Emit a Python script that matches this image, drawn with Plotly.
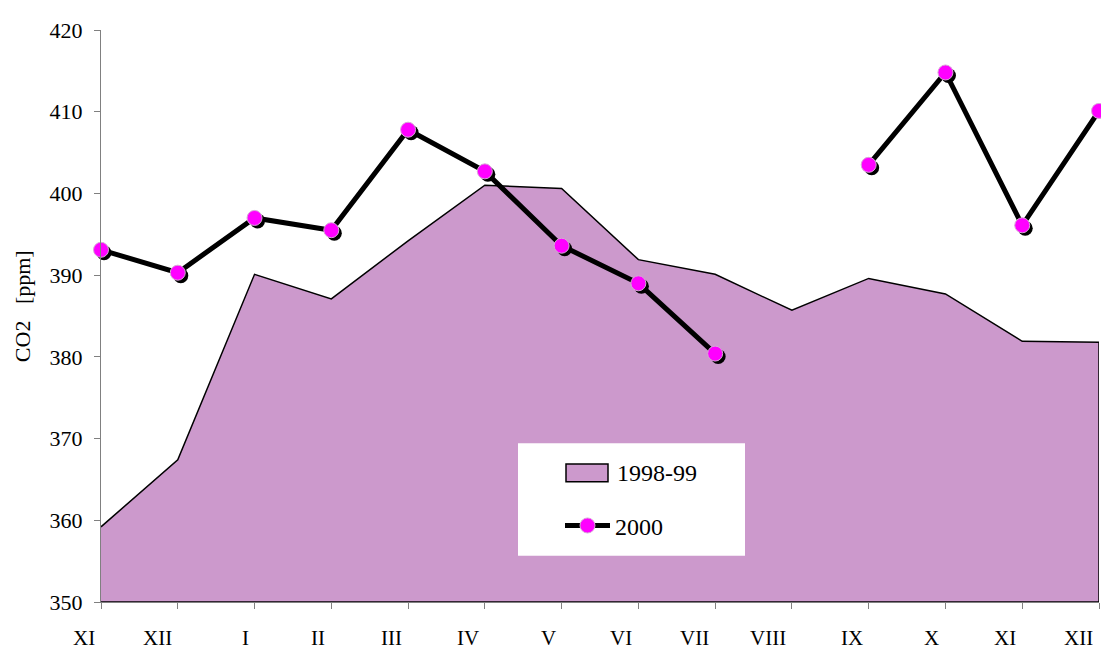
import plotly.graph_objects as go

months = ["XI", "XII", "I", "II", "III", "IV", "V", "VI", "VII", "VIII", "IX", "X", "XI", "XII"]
co2_1998_99 = [359.2, 367.4, 390.1, 387.1, 394.2, 401.0, 400.6, 391.9, 390.1, 385.7, 389.6, 387.7, 381.9, 381.8]
co2_2000 = [393.1, 390.3, 397.0, 395.5, 407.8, 402.7, 393.6, 389.0, 380.4, None, 403.5, 414.8, 396.1, 410.1]

Y_MIN, Y_MAX = 350, 420
xs = list(range(len(months)))

OFF = 8  # page body margin
W, H = 1109 - OFF, 651 - OFF
ML, MR, MT, MB = 101 - OFF, 10, 22 - OFF, 49
PW = W - ML - MR
PH = H - MT - MB
SHADOW_PX = 3
x_range = [0, len(months) - 1]
dx = SHADOW_PX * (x_range[1] - x_range[0]) / PW
dy = SHADOW_PX * (Y_MAX - Y_MIN) / PH


def px_x(sx):  # screen x -> paper
    return (sx - OFF - ML) / PW


def px_y(sy):  # screen y -> paper
    return (MT + PH - (sy - OFF)) / PH


FONT = "Liberation Serif, Times New Roman, serif"
AREA = "#CC99CC"

fig = go.Figure()

# area (closed polygon down to axis minimum)
fig.add_trace(go.Scatter(
    x=xs + [xs[-1], xs[0]],
    y=co2_1998_99 + [Y_MIN, Y_MIN],
    fill="toself", fillcolor=AREA,
    mode="lines", line=dict(color="black", width=1.5),
    name="1998-99", showlegend=False, hoverinfo="skip", cliponaxis=False,
))

# shadow of markers (drawn on shifted overlay axes)
fig.add_trace(go.Scatter(
    x=xs, y=co2_2000, mode="markers",
    marker=dict(size=15, color="black"),
    xaxis="x2", yaxis="y2", showlegend=False, hoverinfo="skip", cliponaxis=False,
))

fig.add_trace(go.Scatter(
    x=xs, y=co2_2000, mode="lines+markers", connectgaps=False,
    line=dict(color="black", width=5),
    marker=dict(size=15, color="#FF00FF", line=dict(color="#D8A8D8", width=1)),
    name="2000", xaxis="x3", yaxis="y3", cliponaxis=False,
))

# x tick labels (right-aligned just left of each tick)
for i, m in enumerate(months):
    fig.add_annotation(x=i, y=0, xref="x", yref="paper", text=m, showarrow=False,
                       xanchor="right", yanchor="middle", xshift=-4, yshift=-36,
                       font=dict(family=FONT, size=21, color="black"))

fig.add_annotation(x=px_x(22), y=px_y(302), xref="paper", yref="paper", text="CO2   [ppm]",
                   textangle=-90, showarrow=False, xanchor="center", yanchor="middle",
                   font=dict(family=FONT, size=22, color="black"))

# white legend box
fig.add_shape(type="rect", xref="paper", yref="paper",
              x0=px_x(518), x1=px_x(745), y0=px_y(555), y1=px_y(441),
              fillcolor="white", line=dict(width=0), layer="above")
# legend entry for the area series
fig.add_shape(type="rect", xref="paper", yref="paper",
              x0=px_x(566), x1=px_x(608), y0=px_y(480), y1=px_y(462),
              fillcolor=AREA, line=dict(color="black", width=1.5), layer="above")
fig.add_annotation(x=px_x(615), y=px_y(471), xref="paper", yref="paper", text="1998-99",
                   showarrow=False, xanchor="left", yanchor="middle",
                   font=dict(family=FONT, size=24, color="black"))

fig.update_layout(
    width=W, height=H,
    margin=dict(l=ML, r=MR, t=MT, b=MB),
    paper_bgcolor="white", plot_bgcolor="white",
    font=dict(family=FONT, size=22, color="black"),
    xaxis=dict(range=x_range, tickmode="array", tickvals=xs, showticklabels=False,
               ticks="outside", ticklen=6, tickcolor="#808080",
               showline=True, linecolor="#808080", showgrid=False, zeroline=False),
    yaxis=dict(range=[Y_MIN, Y_MAX], dtick=10, ticks="outside", ticklen=6, tickcolor="#808080",
               showline=True, linecolor="#808080", showgrid=False, zeroline=False,
               ticklabelstandoff=7,
               tickfont=dict(family=FONT, size=22, color="black")),
    xaxis2=dict(range=[x_range[0] - dx, x_range[1] - dx], overlaying="x", visible=False),
    yaxis2=dict(range=[Y_MIN + dy, Y_MAX + dy], overlaying="y", visible=False),
    xaxis3=dict(range=x_range, overlaying="x", visible=False),
    yaxis3=dict(range=[Y_MIN, Y_MAX], overlaying="y", visible=False),
    showlegend=True,
    legend=dict(x=px_x(560), y=px_y(502), xanchor="left", yanchor="top",
                bgcolor="rgba(0,0,0,0)", itemwidth=45,
                font=dict(family=FONT, size=24, color="black")),
)

fig.write_html("out.html")
